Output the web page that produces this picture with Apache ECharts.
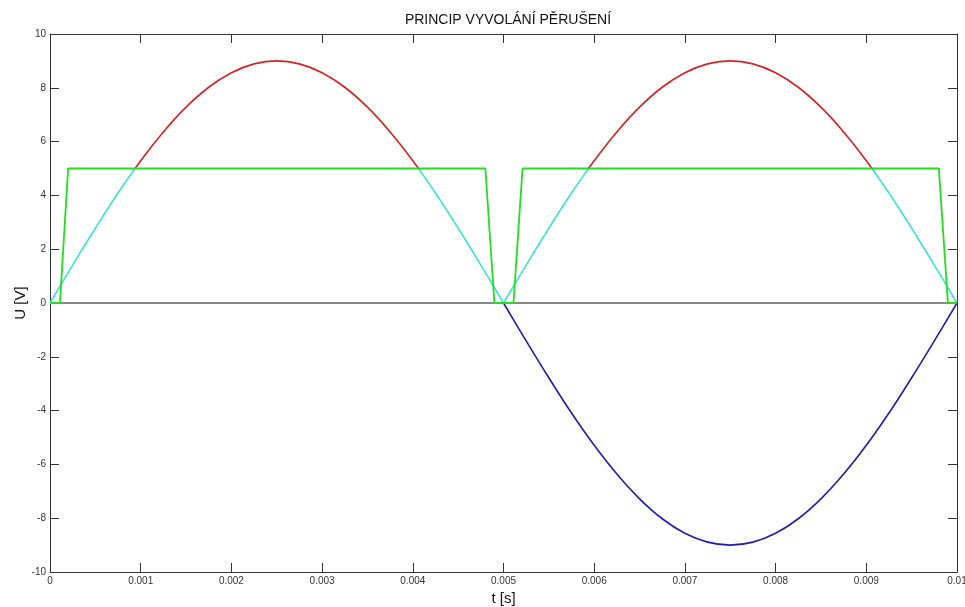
<!DOCTYPE html>
<html>
<head>
<meta charset="utf-8">
<script src="https://cdn.jsdelivr.net/npm/echarts@6/dist/echarts.min.js"></script>
<style>html,body{margin:0;padding:0;background:#fff}#c{width:965px;height:607px}</style>
</head>
<body>
<div id="c"></div>
<script>
const titleText = 'PRINCIP VYVOLÁNÍ PĚRUŠENÍ';
const xName = 't [s]';
const yName = 'U [V]';

// time samples (s), first half-period
const time1 = [0,0.00025,0.0005,0.00075,0.001,0.00125,0.0015,0.00175,0.002,0.00225,0.0025,
  0.00275,0.003,0.00325,0.0035,0.00375,0.004,0.00425,0.0045,0.00475,0.005];
// time samples (s), second half-period
const time2 = [0.005,0.00525,0.0055,0.00575,0.006,0.00625,0.0065,0.00675,0.007,0.00725,0.0075,
  0.00775,0.008,0.00825,0.0085,0.00875,0.009,0.00925,0.0095,0.00975,0.01];
// rectified voltage (red above 5 V, cyan below)
const rectified1 = [0,1.41,2.78,4.09,5.29,6.36,7.28,8.02,8.56,8.89,9.00,
  8.89,8.56,8.02,7.28,6.36,5.29,4.09,2.78,1.41,0];
const rectified2 = [0,1.41,2.78,4.09,5.29,6.36,7.28,8.02,8.56,8.89,9.00,
  8.89,8.56,8.02,7.28,6.36,5.29,4.09,2.78,1.41,0];
// negative half-wave (blue), second half of the period
const negative = [0,-1.41,-2.78,-4.09,-5.29,-6.36,-7.28,-8.02,-8.56,-8.89,-9.00,
  -8.89,-8.56,-8.02,-7.28,-6.36,-5.29,-4.09,-2.78,-1.41,0];
// interrupt pulse (green)
const pulseTime = [0,0.00011,0.0002,0.0048,0.0049,0.00511,0.00521,0.0098,0.0099,0.01];
const pulse = [0,0,5,5,0,0,5,5,0,0];
// zero reference line
const zeroTime = [0,0.01];
const zero = [0,0];
const threshold = 5;

const zip = (a,b)=>a.map((v,i)=>[v,b[i]]);

const chart = echarts.init(document.getElementById('c'), null, {renderer:'canvas'});
const axisLbl = {color:'#333', fontSize:10, fontFamily:'Liberation Sans, Arial'};
const axLine = {show:true, onZero:false, lineStyle:{color:'#333', width:1}};
const tick = {show:true, inside:true, length:9, lineStyle:{color:'#333'}};
chart.setOption({
  animation:false,
  backgroundColor:'#fff',
  title:{text:titleText, left:503, textAlign:'center', top:8,
    textStyle:{fontSize:14, fontWeight:'normal', color:'#111', fontFamily:'Liberation Sans, Arial'}},
  grid:{left:50, right:8, top:34, bottom:35, show:false, outerBoundsMode:'none', containLabel:false},
  xAxis:[{type:'value', min:0, max:0.01, interval:0.001, position:'bottom',
      name:xName, nameLocation:'middle', nameGap:19, nameMoveOverlap:false,
      nameTextStyle:{fontSize:15, color:'#111', fontFamily:'Liberation Sans, Arial'},
      axisLine:axLine, axisTick:tick, splitLine:{show:false},
      axisLabel:Object.assign({margin:4, formatter:v=>String(+v.toFixed(4))}, axisLbl)},
    {type:'value', min:0, max:0.01, interval:0.001, position:'top',
      axisLine:axLine, axisTick:tick, splitLine:{show:false}, axisLabel:{show:false}}],
  yAxis:[{type:'value', min:-10, max:10, interval:2, position:'left',
      name:yName, nameLocation:'middle', nameGap:22, nameRotate:90, nameMoveOverlap:false,
      nameTextStyle:{fontSize:15, color:'#111', fontFamily:'Liberation Sans, Arial'},
      axisLine:axLine, axisTick:tick, splitLine:{show:false},
      axisLabel:Object.assign({margin:4}, axisLbl)},
    {type:'value', min:-10, max:10, interval:2, position:'right',
      axisLine:axLine, axisTick:tick, splitLine:{show:false}, axisLabel:{show:false}}],
  visualMap:{show:false, type:'piecewise', seriesIndex:[1,2], dimension:1,
    pieces:[{gt:threshold, lte:20, color:'#d42222'},{gte:-20, lte:threshold, color:'#3fe0da'}]},
  series:[
    {type:'line', data:zip(zeroTime, zero), symbol:'none', lineStyle:{color:'#111', width:1}, z:1},
    {type:'line', data:zip(time1, rectified1), symbol:'none', smooth:0.4, lineStyle:{width:1.6}, z:3},
    {type:'line', data:zip(time2, rectified2), symbol:'none', smooth:0.4, lineStyle:{width:1.6}, z:3},
    {type:'line', data:zip(time2, negative), symbol:'none', smooth:0.4, lineStyle:{color:'#1f1fa6', width:1.6}, z:3},
    {type:'line', data:zip(pulseTime, pulse), symbol:'none', lineStyle:{color:'#22dd22', width:1.8}, z:4}
  ]
});
</script>
</body>
</html>
